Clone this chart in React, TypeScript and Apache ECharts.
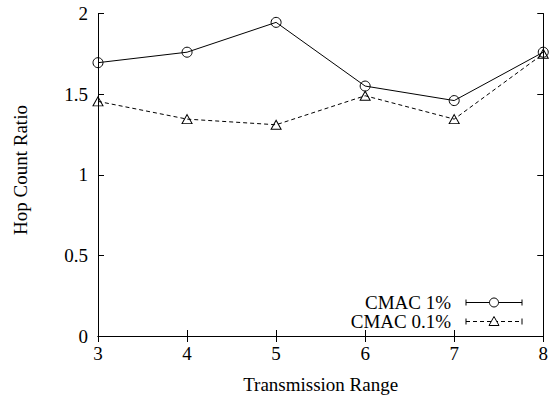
import React, { useEffect, useRef } from "react";
import * as echarts from "echarts";

const xValues = [3, 4, 5, 6, 7, 8];
const cmac1 = [1.695, 1.76, 1.945, 1.55, 1.46, 1.76];
const cmac01 = [1.455, 1.345, 1.31, 1.49, 1.345, 1.75];
const seriesNames = ["CMAC 1%", "CMAC 0.1%"];
const yTicks = [0, 0.5, 1, 1.5, 2];

const FONT = "Liberation Serif";

export default function App() {
  const ref = useRef<HTMLDivElement>(null);
  useEffect(() => {
    if (!ref.current) return;
    const chart = echarts.init(ref.current, undefined, { renderer: "svg" });
    const axisCommon = {
      axisLine: { show: true, lineStyle: { color: "#000", width: 1 } },
      axisTick: { show: true, inside: true, length: 6, lineStyle: { color: "#000" } },
      splitLine: { show: false },
    };
    const labelStyle = { color: "#000", fontFamily: FONT, fontSize: 19 };
    const legendY = [302.5, 321.5];
    const legendGraphics: any[] = [];
    seriesNames.forEach((name, i) => {
      const y = legendY[i];
      const dash = i === 1 ? [4, 3] : undefined;
      legendGraphics.push({
        type: "text",
        x: 451,
        y: y,
        style: { text: name, fill: "#000", font: `19px "${FONT}"`, align: "right", verticalAlign: "middle" },
      });
      legendGraphics.push({
        type: "line",
        shape: { x1: 466, y1: y, x2: 522, y2: y },
        style: { stroke: "#000", lineWidth: 1, lineDash: dash },
      });
      legendGraphics.push({ type: "line", shape: { x1: 466, y1: y - 3, x2: 466, y2: y + 3 }, style: { stroke: "#000", lineWidth: 1 } });
      legendGraphics.push({ type: "line", shape: { x1: 522, y1: y - 3, x2: 522, y2: y + 3 }, style: { stroke: "#000", lineWidth: 1 } });
      if (i === 0) {
        legendGraphics.push({ type: "circle", shape: { cx: 494, cy: y, r: 4.5 }, style: { fill: "#fff", stroke: "#000", lineWidth: 1 } });
      } else {
        legendGraphics.push({
          type: "polygon",
          shape: { points: [[494, y - 5], [499, y + 4], [489, y + 4]] },
          style: { fill: "#fff", stroke: "#000", lineWidth: 1 },
        });
      }
    });
    chart.setOption({
      animation: false,
      backgroundColor: "#fff",
      grid: { left: 98, right: 7, top: 13.5, bottom: 65 },
      xAxis: [
        {
          type: "value",
          min: 3,
          max: 8,
          interval: 1,
          position: "bottom",
          ...axisCommon,
          axisLabel: { ...labelStyle, margin: 8 },
          name: "Transmission Range",
          nameLocation: "middle",
          nameGap: 39,
          nameTextStyle: { ...labelStyle },
        },
        {
          type: "value",
          min: 3,
          max: 8,
          interval: 1,
          position: "top",
          ...axisCommon,
          axisLabel: { show: false },
        },
      ],
      yAxis: [
        {
          type: "value",
          min: yTicks[0],
          max: yTicks[yTicks.length - 1],
          interval: 0.5,
          position: "left",
          ...axisCommon,
          axisLabel: { ...labelStyle, margin: 10 },
        },
        {
          type: "value",
          min: yTicks[0],
          max: yTicks[yTicks.length - 1],
          interval: 0.5,
          position: "right",
          ...axisCommon,
          axisLabel: { show: false },
        },
      ],
      graphic: [
        {
          type: "text",
          x: 20,
          y: 170,
          rotation: Math.PI / 2,
          style: { text: "Hop Count Ratio", fill: "#000", font: `19px "${FONT}"`, align: "center", verticalAlign: "middle" },
        },
        ...legendGraphics,
      ],
      series: [
        {
          name: seriesNames[0],
          type: "line",
          data: xValues.map((x, i) => [x, cmac1[i]]),
          symbol: "circle",
          symbolSize: 10,
          lineStyle: { color: "#000", width: 1 },
          itemStyle: { color: "rgba(0,0,0,0)", borderColor: "#000", borderWidth: 1 },
          z: 3,
        },
        {
          name: seriesNames[1],
          type: "line",
          data: xValues.map((x, i) => [x, cmac01[i]]),
          symbol: "triangle",
          symbolSize: [10, 9],
          lineStyle: { color: "#000", width: 1, type: [4, 3] },
          itemStyle: { color: "rgba(0,0,0,0)", borderColor: "#000", borderWidth: 1 },
          z: 3,
        },
      ],
    });
    return () => chart.dispose();
  }, []);
  return <div ref={ref} style={{ width: 551, height: 401, position: "absolute", left: 0, top: 0 }} />;
}
